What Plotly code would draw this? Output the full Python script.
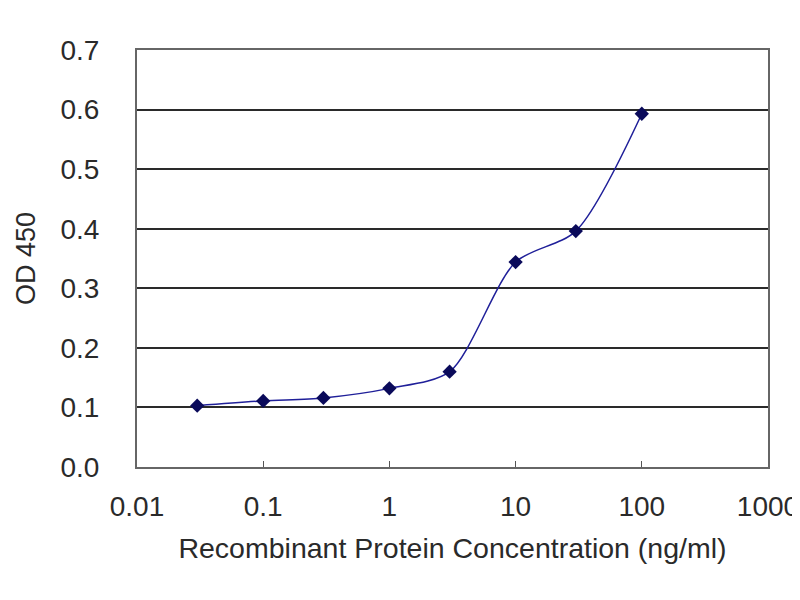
import plotly.graph_objects as go

# concentration (ng/ml) and OD 450 readings
conc = [0.03, 0.1, 0.3, 1, 3, 10, 30, 100]
od450 = [0.103, 0.111, 0.116, 0.132, 0.160, 0.344, 0.396, 0.593]

x_ticks = [0.01, 0.1, 1, 10, 100, 1000]
x_labels = ['0.01', '0.1', '1', '10', '100', '1000']
y_ticks = [0.0, 0.1, 0.2, 0.3, 0.4, 0.5, 0.6, 0.7]

fig = go.Figure()

fig.add_trace(go.Scatter(x=conc, y=od450,
                         mode='lines+markers',
                         line=dict(color='#1f1f99', width=1.5, shape='spline', smoothing=0.8),
                         marker=dict(symbol='diamond', size=11, color='#0a0a5a'),
                         showlegend=False))

# page body adds an 8px offset, so the figure is 792x592
fig.update_layout(width=792, height=592,
                  paper_bgcolor='white',
                  plot_bgcolor='white',
                  margin=dict(l=129, r=32, t=42, b=133),
                  font=dict(family='Liberation Sans, Arial', size=28, color='#2a2a2a'))

fig.update_xaxes(type='log',
                 range=[-2, 3],
                 tickvals=x_ticks,
                 ticktext=x_labels,
                 ticks='inside',
                 ticklen=6,
                 tickcolor='#555555',
                 showgrid=False,
                 showline=True,
                 linecolor='#666666',
                 linewidth=2,
                 mirror=True,
                 automargin=False,
                 ticklabelstandoff=13,
                 title=dict(text='Recombinant Protein Concentration (ng/ml)',
                            font=dict(size=28.5), standoff=17))

fig.update_yaxes(range=[0, 0.7],
                 tickvals=y_ticks,
                 tickformat='.1f',
                 ticks='',
                 showgrid=True,
                 gridcolor='#2a2a2a',
                 gridwidth=2,
                 zeroline=False,
                 showline=True,
                 linecolor='#666666',
                 linewidth=2,
                 mirror=True,
                 automargin=False,
                 ticklabelstandoff=30,
                 title=dict(text='OD 450', font=dict(size=27), standoff=17))

fig.write_html("out.html")
